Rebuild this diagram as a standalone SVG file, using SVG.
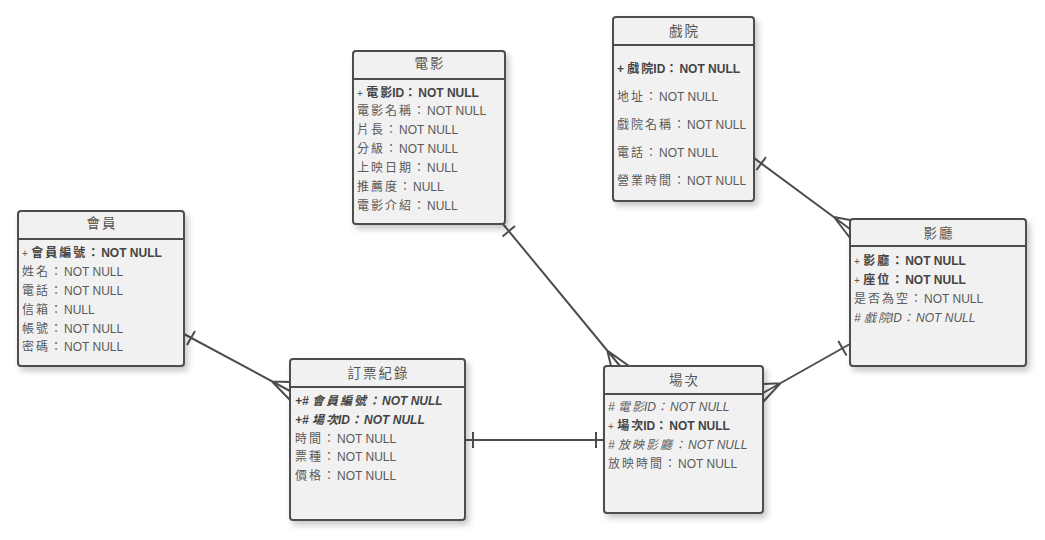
<svg xmlns="http://www.w3.org/2000/svg" width="1045" height="540" viewBox="0 0 1045 540">
<defs>
<filter id="sh" x="-10%" y="-10%" width="125%" height="125%">
<feDropShadow dx="3" dy="4" stdDeviation="3" flood-color="#000" flood-opacity="0.22"/>
</filter>
<style>
.box{fill:#f1f1f1;stroke:#4d4d4d;stroke-width:2;filter:url(#sh)}
.sep{stroke:#4d4d4d;stroke-width:2}
text{font-family:"Liberation Sans","Noto Sans CJK TC",sans-serif;fill:#5a5a5a;font-size:12px}
.t{font-size:13.5px;text-anchor:middle;fill:#555;letter-spacing:2px}
.k{letter-spacing:2px}
.b{font-weight:bold;fill:#444}
.i{font-style:italic}
.bi{font-weight:bold;font-style:italic;fill:#444}
.c{fill:none;stroke:#4d4d4d;stroke-width:2}
</style>
</defs>
<rect width="1045" height="540" fill="#fff"/>

<g id="connectors">
<path class="c" d="M184 334 L290 391 M187 345 L195 331 M272 381.5 L290 382 M272 381.5 L290 400"/>
<path class="c" d="M503 224 L620 366 M502.5 236.5 L515 226 M607.3 350.6 L611 366 M607.3 350.6 L629 366"/>
<path class="c" d="M754 158 L850 229 M756.5 170 L766 157 M834 217 L850 220 M834 217 L850 238"/>
<path class="c" d="M850 344 L763 393 M838.3 341 L846.5 355.5 M780.4 383.2 L763 384 M780.4 383.2 L763 402"/>
<path class="c" d="M465 440 L604 440 M473 432 L473 448 M596 432 L596 448"/>
</g>

<g id="member">
<rect class="box" x="18" y="211" width="166" height="155" rx="3"/>
<line class="sep" x1="18" y1="239" x2="184" y2="239"/>
<text class="t" x="102" y="228">會員</text>
<text x="22" y="256.5"><tspan font-size="10">+</tspan> <tspan class="b"><tspan class="k">會員編號：</tspan>NOT NULL</tspan></text>
<text x="22" y="275.5"><tspan class="k">姓名：</tspan>NOT NULL</text>
<text x="22" y="294.5"><tspan class="k">電話：</tspan>NOT NULL</text>
<text x="22" y="313.5"><tspan class="k">信箱：</tspan>NULL</text>
<text x="22" y="332.5"><tspan class="k">帳號：</tspan>NOT NULL</text>
<text x="22" y="351"><tspan class="k">密碼：</tspan>NOT NULL</text>
</g>

<g id="movie">
<rect class="box" x="353" y="51" width="152" height="173" rx="3"/>
<line class="sep" x1="353" y1="79" x2="505" y2="79"/>
<text class="t" x="430" y="67.5">電影</text>
<text x="357" y="96.5"><tspan font-size="10">+</tspan> <tspan class="b"><tspan class="k">電</tspan>影ID<tspan class="k">：</tspan>NOT NULL</tspan></text>
<text x="357" y="115"><tspan class="k">電影名稱：</tspan>NOT NULL</text>
<text x="357" y="134"><tspan class="k">片長：</tspan>NOT NULL</text>
<text x="357" y="153"><tspan class="k">分級：</tspan>NOT NULL</text>
<text x="357" y="172"><tspan class="k">上映日期：</tspan>NULL</text>
<text x="357" y="191"><tspan class="k">推薦度：</tspan>NULL</text>
<text x="357" y="210"><tspan class="k">電影介紹：</tspan>NULL</text>
</g>

<g id="theater">
<rect class="box" x="613" y="17" width="141" height="184" rx="3"/>
<line class="sep" x1="613" y1="45" x2="754" y2="45"/>
<text class="t" x="684.5" y="35.5">戲院</text>
<text x="617" y="72.5" class="b">+ <tspan class="k">戲</tspan>院ID<tspan class="k">：</tspan>NOT NULL</text>
<text x="617" y="101"><tspan class="k">地址：</tspan>NOT NULL</text>
<text x="617" y="129"><tspan class="k">戲院名稱：</tspan>NOT NULL</text>
<text x="617" y="157"><tspan class="k">電話：</tspan>NOT NULL</text>
<text x="617" y="185"><tspan class="k">營業時間：</tspan>NOT NULL</text>
</g>

<g id="hall">
<rect class="box" x="850" y="219" width="176" height="147" rx="3"/>
<line class="sep" x1="850" y1="246" x2="1026" y2="246"/>
<text class="t" x="939" y="237.5">影廳</text>
<text x="854" y="264.5"><tspan font-size="10">+</tspan> <tspan class="b"><tspan class="k">影廳：</tspan>NOT NULL</tspan></text>
<text x="854" y="283.5"><tspan font-size="10">+</tspan> <tspan class="b"><tspan class="k">座位：</tspan>NOT NULL</tspan></text>
<text x="854" y="302.5"><tspan class="k">是否為空：</tspan>NOT NULL</text>
<text x="854" y="321.5" class="i"># <tspan class="k">戲</tspan>院ID<tspan class="k">：</tspan>NOT NULL</text>
</g>

<g id="booking">
<rect class="box" x="290" y="359" width="175" height="161" rx="3"/>
<line class="sep" x1="290" y1="387" x2="465" y2="387"/>
<text class="t" x="378.5" y="377.5">訂票紀錄</text>
<text x="295" y="404.5" class="bi">+# <tspan class="k">會員編號：</tspan>NOT NULL</text>
<text x="295" y="423.5" class="bi">+# <tspan class="k">場</tspan>次ID<tspan class="k">：</tspan>NOT NULL</text>
<text x="295" y="442.5"><tspan class="k">時間：</tspan>NOT NULL</text>
<text x="295" y="461"><tspan class="k">票種：</tspan>NOT NULL</text>
<text x="295" y="480"><tspan class="k">價格：</tspan>NOT NULL</text>
</g>

<g id="showing">
<rect class="box" x="604" y="366" width="159" height="147" rx="3"/>
<line class="sep" x1="604" y1="394" x2="763" y2="394"/>
<text class="t" x="684.5" y="384.5">場次</text>
<text x="608" y="411" class="i"># <tspan class="k">電</tspan>影ID<tspan class="k">：</tspan>NOT NULL</text>
<text x="608" y="430"><tspan font-size="10">+</tspan> <tspan class="b"><tspan class="k">場</tspan>次ID<tspan class="k">：</tspan>NOT NULL</tspan></text>
<text x="608" y="449" class="i"># <tspan class="k">放映影廳：</tspan>NOT NULL</text>
<text x="608" y="468"><tspan class="k">放映時間：</tspan>NOT NULL</text>
</g>
</svg>
